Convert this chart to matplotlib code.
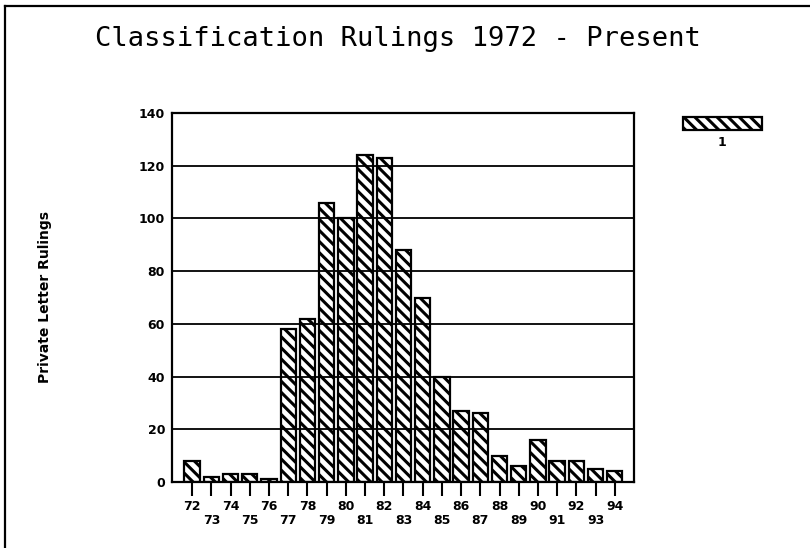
import numpy as np
import matplotlib
matplotlib.use('Agg')
import matplotlib.pyplot as plt
from matplotlib.patches import Rectangle
from matplotlib.lines import Line2D

years = ['72', '73', '74', '75', '76', '77', '78', '79', '80', '81', '82', '83',
         '84', '85', '86', '87', '88', '89', '90', '91', '92', '93', '94']
rulings = [8, 2, 3, 3, 1, 58, 62, 106, 100, 124, 123, 88,
           70, 40, 27, 26, 10, 6, 16, 8, 8, 5, 4]
y_ticks = [0, 20, 40, 60, 80, 100, 120, 140]
series_name = '1'

plt.rcParams['hatch.linewidth'] = 2.2
plt.rcParams['font.family'] = 'DejaVu Sans'

fig = plt.figure(figsize=(8.10, 5.48), dpi=100)
W, H = 810, 548
ax = fig.add_axes([172 / W, 1 - 482 / H, (634 - 172) / W, (482 - 113) / H])

x = np.arange(len(years))
ax.bar(x, rulings, width=0.8, color='white', edgecolor='black', linewidth=1.6,
       hatch='\\\\\\', zorder=2)

ax.set_xlim(-1.05, len(years) - 0.0)
ax.set_ylim(0, 140)
ax.set_yticks(y_ticks)
ax.set_yticklabels([str(v) for v in y_ticks], fontsize=9, fontweight='bold')
ax.yaxis.grid(True, color='black', linewidth=1.3, zorder=3)
ax.set_axisbelow(False)
ax.tick_params(axis='y', length=0, pad=5)

ax.set_xticks(x)
labels = [y if i % 2 == 0 else '\n' + y for i, y in enumerate(years)]
ax.set_xticklabels(labels, fontsize=9, fontweight='bold', linespacing=1.1)
ax.tick_params(axis='x', length=10, width=1.5, direction='out', pad=3)

for s in ax.spines.values():
    s.set_linewidth(1.6)

ax.set_ylabel('Private Letter Rulings', fontsize=10, fontweight='bold', labelpad=0)
ax.yaxis.set_label_coords(-120 / (634 - 172), 0.5)

fig.text(398 / W, 1 - 39 / H, 'Classification Rulings 1972 - Present',
         ha='center', va='center', fontsize=19.5, family='DejaVu Sans Mono')

# legend
leg = Rectangle((683 / W, 1 - 130 / H), 79 / W, 13 / H, transform=fig.transFigure,
                facecolor='white', edgecolor='black', linewidth=1.6, hatch='\\\\\\')
fig.add_artist(leg)
fig.text(722 / W, 1 - 143 / H, series_name, ha='center', va='center',
         fontsize=9, fontweight='bold')

# page frame
fig.add_artist(Line2D([5 / W, 1], [1 - 6 / H, 1 - 6 / H], transform=fig.transFigure,
                      color='black', linewidth=1.6))
fig.add_artist(Line2D([5 / W, 5 / W], [0, 1 - 6 / H], transform=fig.transFigure,
                      color='black', linewidth=1.6))

fig.savefig('out.png', dpi=100)
